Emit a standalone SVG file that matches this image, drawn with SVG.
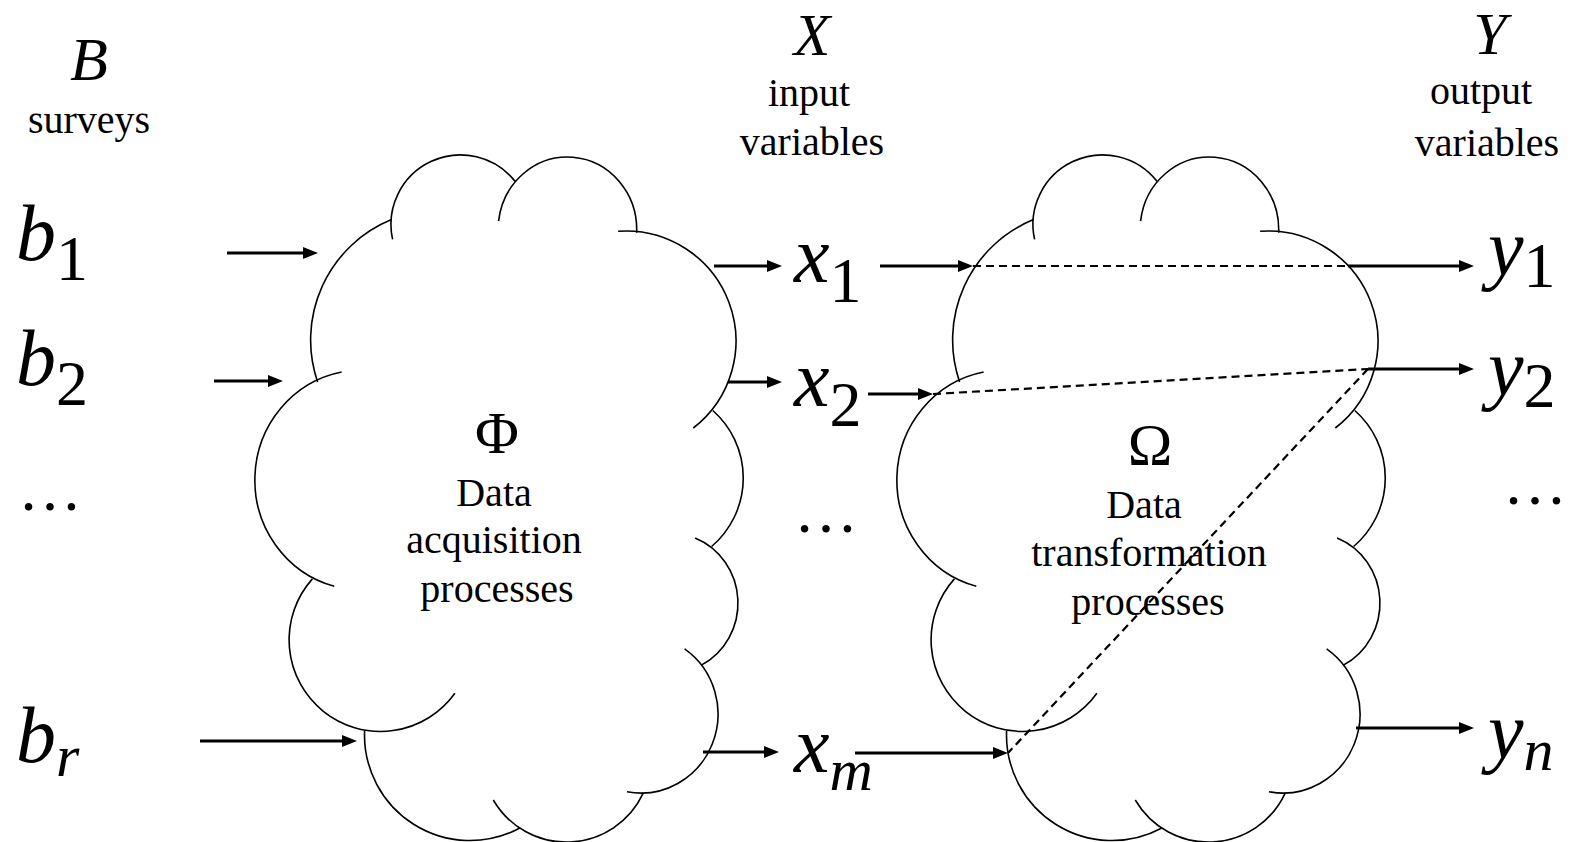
<svg xmlns="http://www.w3.org/2000/svg" xmlns:xlink="http://www.w3.org/1999/xlink" width="1571" height="842" viewBox="0 0 1571 842">
<style>
  .cloud path { fill: none; stroke: #000; stroke-width: 1.6; }
  .lbl { font-family: "Liberation Serif", "Times New Roman", serif; fill: #000; }
  .it { font-style: italic; }
  .cap { font-size: 40px; text-anchor: middle; }
  .sym { font-size: 80px; }
  .sub { font-size: 64px; font-style: normal; }
  .subi { font-size: 60px; font-style: italic; }
  .arrow { stroke: #000; stroke-width: 3; fill: none; marker-end: url(#ah); }
  .dash { stroke: #000; stroke-width: 2.2; stroke-dasharray: 8 5; fill: none; }
</style>
<defs>
  <marker id="ah" markerUnits="userSpaceOnUse" markerWidth="15" markerHeight="12" refX="9" refY="6" orient="auto">
    <path d="M0,0 L15,6 L0,12 z" fill="#000"/>
  </marker>
  <!-- cloud outline: eleven overlapping arcs, each running a little past its junction -->
  <g id="cloud-shape" class="cloud">
    <path d="M317.6,382.0 A130,130 0 0 1 391.5,219.6"/>
    <path d="M392.6,239.4 A69.5,69.5 0 0 1 515.2,181.6"/>
    <path d="M498.6,221.1 A69.3,72.7 0 0 1 636.65,232.66"/>
    <path d="M618.1,231.3 A110,110 0 0 1 693.3,428.0"/>
    <path d="M712.8,410.5 A90,90 0 0 1 711.6,546.5"/>
    <path d="M695.1,538.0 A68,70 0 0 1 701.4,665.1"/>
    <path d="M684.6,648.9 A77,79 0 0 1 627.0,791.7"/>
    <path d="M643.2,793.2 A84.6,84.6 0 0 1 493.3,800.0"/>
    <path d="M519.9,828.0 A105.5,105.5 0 0 1 364.6,730.8"/>
    <path d="M454.9,693.3 A91.5,91.5 0 1 1 312.4,578.9"/>
    <path d="M334.3,586.3 A107,110 0 0 1 341.6,372.0"/>
  </g>
</defs>

<!-- survey column -->
<g id="surveys">
  <text class="lbl it" x="89" y="80" font-size="62" text-anchor="middle">B</text>
  <text class="lbl cap" x="89" y="133">surveys</text>
  <text class="lbl it sym" x="16" y="260">b<tspan class="sub" dy="20">1</tspan></text>
  <text class="lbl it sym" x="16" y="385">b<tspan class="sub" dy="20">2</tspan></text>
  <text class="lbl" x="18" y="510" font-size="64">…</text>
  <text class="lbl it sym" x="16" y="762">b<tspan class="subi" dy="14">r</tspan></text>
</g>

<!-- acquisition cloud -->
<g id="phi-cloud">
  <use xlink:href="#cloud-shape" href="#cloud-shape"/>
  <text class="lbl" x="497" y="453" font-size="60" text-anchor="middle">Φ</text>
  <text class="lbl cap" x="494" y="506">Data</text>
  <text class="lbl cap" x="494" y="553">acquisition</text>
  <text class="lbl cap" x="497" y="602">processes</text>
</g>

<!-- input variables column -->
<g id="inputs">
  <text class="lbl it" x="812" y="55" font-size="60" text-anchor="middle">X</text>
  <text class="lbl cap" x="809" y="106">input</text>
  <text class="lbl cap" x="812" y="155">variables</text>
  <text class="lbl it sym" x="794" y="282">x<tspan class="sub" dy="20">1</tspan></text>
  <text class="lbl it sym" x="794" y="406">x<tspan class="sub" dy="20">2</tspan></text>
  <text class="lbl" x="794" y="532" font-size="64">…</text>
  <text class="lbl it sym" x="794" y="772">x<tspan class="subi" dy="18">m</tspan></text>
</g>

<!-- transformation cloud -->
<g id="omega-cloud">
  <use xlink:href="#cloud-shape" href="#cloud-shape" transform="translate(642,0)"/>
  <text class="lbl" x="1150" y="465" font-size="60" text-anchor="middle">Ω</text>
  <text class="lbl cap" x="1144" y="518">Data</text>
  <text class="lbl cap" x="1149" y="566">transformation</text>
  <text class="lbl cap" x="1148" y="615">processes</text>
</g>

<!-- output variables column -->
<g id="outputs">
  <text class="lbl it" x="1490" y="54" font-size="60" text-anchor="middle">Y</text>
  <text class="lbl cap" x="1481" y="104">output</text>
  <text class="lbl cap" x="1487" y="156">variables</text>
  <text class="lbl it sym" x="1488" y="275">y<tspan class="sub" dy="12">1</tspan></text>
  <text class="lbl it sym" x="1488" y="395">y<tspan class="sub" dy="12">2</tspan></text>
  <text class="lbl" x="1503" y="504" font-size="64">…</text>
  <text class="lbl it sym" x="1488" y="758">y<tspan class="subi" dy="12">n</tspan></text>
</g>

<!-- connectors -->
<g id="connectors">
  <path class="arrow" d="M227,253 H312"/>
  <path class="arrow" d="M214,381 H277"/>
  <path class="arrow" d="M200,741 H351"/>
  <path class="arrow" d="M714,266 H776"/>
  <path class="arrow" d="M728,382 H776"/>
  <path class="arrow" d="M703,752 H773"/>
  <path class="arrow" d="M880,266 H967"/>
  <path class="arrow" d="M868,394 H927"/>
  <path class="arrow" d="M855,753 H1002"/>
  <path class="arrow" d="M1348,266 H1468"/>
  <path class="arrow" d="M1368,369 H1468"/>
  <path class="arrow" d="M1356,728 H1468"/>
  <path class="dash" d="M973,266 H1348"/>
  <path class="dash" d="M933,394 L1368,369"/>
  <path class="dash" d="M1368,369 L1008,753"/>
</g>
</svg>
